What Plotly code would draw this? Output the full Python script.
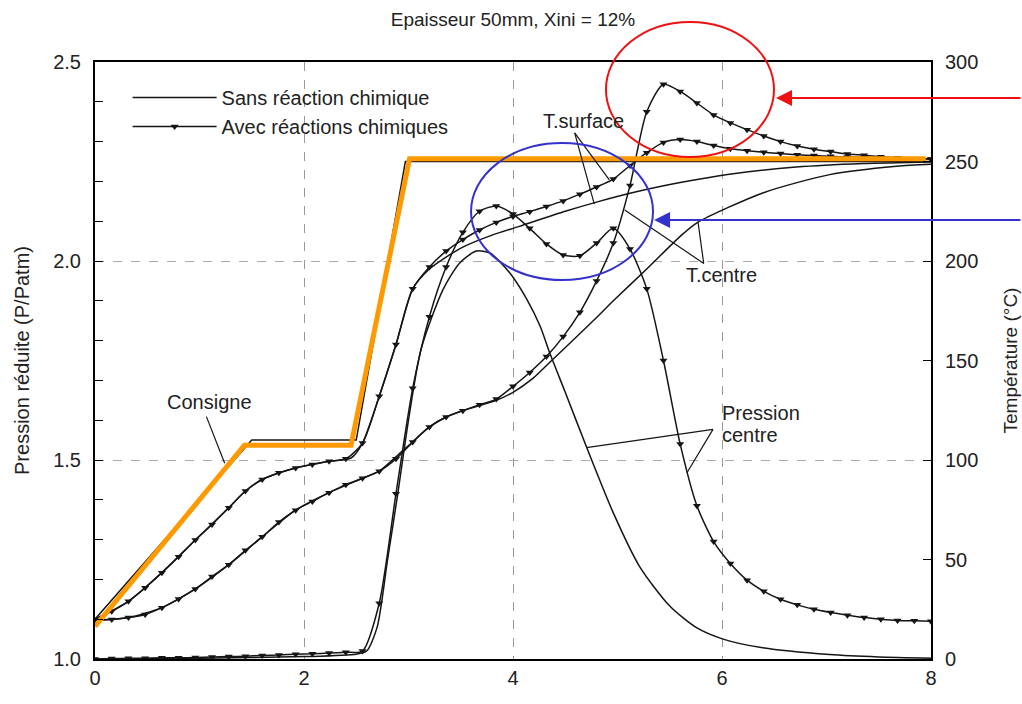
import plotly.graph_objects as go

# ---------------- data ----------------
# time axis (h) for the curves "avec réactions chimiques" (one marker per point)
x_avec = [0.00, 0.16, 0.32, 0.48, 0.64, 0.80, 0.96, 1.12, 1.28, 1.44, 1.60, 1.76, 1.92,
          2.08, 2.24, 2.40, 2.56, 2.72, 2.88, 3.04, 3.20, 3.36, 3.52, 3.68, 3.84, 4.00,
          4.16, 4.32, 4.48, 4.64, 4.80, 4.96, 5.12, 5.28, 5.44, 5.60, 5.76, 5.92, 6.08,
          6.24, 6.40, 6.56, 6.72, 6.88, 7.04, 7.20, 7.36, 7.52, 7.68, 7.84, 8.00]
# temperature surface, avec reactions (°C)
tsurf_avec = [20.0, 24.0, 29.0, 35.8, 43.4, 51.4, 59.8, 67.6, 76.0, 84.4, 90.2, 93.6, 96.0,
              97.8, 99.4, 100.6, 108.5, 132.0, 158.0, 186.0, 197.0, 205.0, 210.8, 215.6, 219.4,
              222.4, 224.8, 227.4, 230.2, 233.6, 237.2, 241.2, 248.0, 254.4, 259.6, 261.0,
              260.0, 258.0, 256.4, 255.4, 254.6, 254.0, 253.4, 253.0, 252.6, 252.2, 252.0,
              251.8, 251.6, 251.4, 251.2]
# temperature centre, avec reactions (°C)
tcent_avec = [19.4, 19.8, 20.8, 22.4, 25.8, 30.2, 35.2, 41.4, 47.4, 54.6, 61.4, 68.8, 74.8,
              79.2, 83.6, 87.6, 90.8, 94.4, 100.6, 109.0, 116.6, 121.6, 124.8, 127.8, 130.6,
              137.0, 144.0, 152.0, 162.0, 174.2, 190.0, 209.0, 238.0, 275.0, 288.8, 285.2,
              279.4, 273.4, 269.4, 266.0, 262.8, 260.0, 257.8, 256.2, 255.0, 253.8, 253.2,
              252.4, 251.8, 251.4, 251.2]
# pression centre, avec reactions (P/Patm)
p_avec = [1.000, 1.001, 1.002, 1.002, 1.003, 1.003, 1.004, 1.005, 1.006, 1.007, 1.009, 1.010,
          1.012, 1.013, 1.015, 1.017, 1.020, 1.140, 1.415, 1.680, 1.860, 1.985, 2.072, 2.125,
          2.138, 2.118, 2.082, 2.043, 2.015, 2.013, 2.045, 2.082, 2.030, 1.930, 1.750, 1.540,
          1.385, 1.295, 1.240, 1.198, 1.170, 1.150, 1.136, 1.125, 1.117, 1.110, 1.104, 1.100,
          1.097, 1.096, 1.095]

# curves "sans réaction chimique"
x_tsurf_sans = [0, 0.32, 0.64, 0.96, 1.28, 1.44, 1.6, 1.92, 2.24, 2.45, 2.56, 2.72, 2.88, 3.04,
                3.2, 3.36, 3.52, 3.8, 4.06, 4.5, 4.8, 5.2, 5.6, 6.07, 6.71, 7.35, 8]
tsurf_sans = [20, 29, 43.4, 59.8, 76, 84.4, 90.2, 96, 99.4, 101, 108.5, 132, 158, 186,
              196, 202, 207, 213, 217.4, 225, 229.6, 235, 239.4, 243.6, 247.2, 249, 249.8]

x_tcent_sans = [0, 0.32, 0.64, 0.96, 1.28, 1.6, 1.92, 2.24, 2.56, 2.72, 2.88, 3.04, 3.2, 3.36,
                3.52, 3.84, 4.0, 4.19, 4.35, 4.78, 4.96, 5.28, 5.6, 5.76, 6.39, 7.03, 7.67, 8]
tcent_sans = [19.4, 20.8, 25.8, 35.2, 47.4, 61.4, 74.8, 83.6, 90.8, 94.4, 101.6, 109.2, 116.6,
              121.6, 124.8, 130.0, 134.0, 141.0, 149.0, 170.6, 180.0, 196.0, 212.4, 219.2,
              234.2, 243.4, 247.6, 248.6]

x_p_sans = [0, 1.0, 2.0, 2.5, 2.6, 2.7, 2.8, 2.9, 3.0, 3.12, 3.33, 3.49, 3.65, 3.78, 3.97,
            4.13, 4.26, 4.35, 4.5, 4.7, 4.96, 5.21, 5.5, 5.76, 6.01, 6.39, 7.03, 7.5, 8]
p_sans = [1.0, 1.002, 1.006, 1.012, 1.02, 1.08, 1.25, 1.42, 1.6, 1.778, 1.928, 1.995, 2.025,
          2.02, 1.97, 1.905, 1.836, 1.77, 1.67, 1.535, 1.367, 1.233, 1.133, 1.078, 1.05,
          1.028, 1.011, 1.005, 1.002]

# consigne (set point), °C
x_cons = [0, 1.5, 2.5, 2.97, 8]
t_cons = [20, 110, 110, 250, 250]
x_cons_overlay = [0, 1.43, 2.45, 3.01, 7.95]
t_cons_overlay = [16.4, 107.4, 107.4, 251.4, 251.4]

# tick labels
x_ticks = [0, 2, 4, 6, 8]
y_ticks = [1.0, 1.5, 2.0, 2.5]
y_ticktext = ["1.0", "1.5", "2.0", "2.5"]
y2_ticks = [0, 50, 100, 150, 200, 250, 300]

# ---------------- figure ----------------
FONT = "Liberation Sans, Arial, sans-serif"
TXT = "#222222"
BLK = "#151515"
LW = 1.5

fig = go.Figure()

def sans(x, y, yaxis, name="Sans réaction chimique", show=False):
    fig.add_trace(go.Scatter(x=x, y=y, yaxis=yaxis, mode="lines", name=name,
                             legendgroup="sans", showlegend=show, legendrank=1,
                             line=dict(color=BLK, width=LW, shape="spline", smoothing=0.7)))

def avec(x, y, yaxis, name="Avec réactions chimiques", show=False):
    fig.add_trace(go.Scatter(x=x, y=y, yaxis=yaxis, mode="lines+markers", name=name,
                             legendgroup="avec", showlegend=show, legendrank=2,
                             line=dict(color=BLK, width=LW, shape="spline", smoothing=0.7),
                             marker=dict(symbol="triangle-down", size=7, color=BLK,
                                         line=dict(width=0))))

fig.add_trace(go.Scatter(x=x_cons, y=t_cons, yaxis="y2", mode="lines", showlegend=False,
                         line=dict(color=BLK, width=LW)))
sans(x_p_sans, p_sans, "y", show=True)
sans(x_tsurf_sans, tsurf_sans, "y2")
sans(x_tcent_sans, tcent_sans, "y2")
avec(x_avec, p_avec, "y", show=True)
avec(x_avec, tsurf_avec, "y2")
avec(x_avec, tcent_avec, "y2")
fig.add_trace(go.Scatter(x=x_cons_overlay, y=t_cons_overlay, yaxis="y2", mode="lines",
                         showlegend=False, line=dict(color="#FF9900", width=5)))

# leader lines for the curve labels (data coordinates, pressure axis)
leaders = [
    ((4.590, 2.322), (4.778, 2.143)), ((4.590, 2.322), (4.922, 2.204)),   # T.surface
    ((5.825, 1.994), (5.069, 2.128)), ((5.825, 1.994), (5.770, 2.099)),   # T.centre
    ((1.066, 1.609), (1.241, 1.492)),                                     # Consigne
    ((5.914, 1.577), (4.703, 1.531)), ((5.914, 1.577), (5.665, 1.468)),   # Pression centre
]
shapes = []
for (a, b) in leaders:
    shapes.append(dict(type="line", xref="x", yref="y", x0=a[0], y0=a[1], x1=b[0], y1=b[1],
                       line=dict(color=BLK, width=1.2)))

# highlight ellipses (paper coordinates)
shapes.append(dict(type="circle", xref="paper", yref="paper", x0=0.6112, x1=0.8122,
                   y0=0.8409, y1=1.0670, line=dict(color="#EE1111", width=2)))
shapes.append(dict(type="circle", xref="paper", yref="paper", x0=0.4498, x1=0.6675,
                   y0=0.6348, y1=0.8643, line=dict(color="#3333CC", width=2)))

ann_font = dict(family=FONT, size=20, color=TXT)
annotations = [
    dict(x=4.677, y=2.352, xref="x", yref="y", text="T.surface", showarrow=False, font=ann_font),
    dict(x=5.997, y=1.965, xref="x", yref="y", text="T.centre", showarrow=False, font=ann_font),
    dict(x=1.098, y=1.646, xref="x", yref="y", text="Consigne", showarrow=False, font=ann_font),
    dict(x=5.978, y=1.618, xref="x", yref="y", text="Pression", showarrow=False,
         xanchor="left", font=ann_font),
    dict(x=5.978, y=1.563, xref="x", yref="y", text="centre", showarrow=False,
         xanchor="left", font=ann_font),
    dict(x=0.8146, y=0.9397, xref="paper", yref="paper", text="", showarrow=True,
         ax=246, ay=0, arrowcolor="#EE1111", arrowwidth=2, arrowhead=2, arrowsize=1.6),
    dict(x=0.6687, y=0.7353, xref="paper", yref="paper", text="", showarrow=True,
         ax=368, ay=0, arrowcolor="#3333CC", arrowwidth=2, arrowhead=2, arrowsize=1.6),
]

axis_common = dict(showline=True, linecolor="black", linewidth=2, zeroline=False,
                   automargin=False, tickfont=dict(family=FONT, size=20, color=TXT))

fig.update_layout(
    width=1022, height=704,
    margin=dict(l=95, r=91, t=62, b=45),
    paper_bgcolor="white", plot_bgcolor="white",
    font=dict(family=FONT, size=20, color=TXT),
    title=dict(text="Epaisseur 50mm, Xini = 12%", x=0.5, xref="paper", y=0.973,
               yref="container", yanchor="middle", xanchor="center",
               font=dict(family=FONT, size=19, color=TXT)),
    xaxis=dict(range=[0, 8], tickmode="array", tickvals=x_ticks, ticks="", mirror=True,
               showgrid=True, gridcolor="#999999", griddash="dash", gridwidth=1,
               **axis_common),
    yaxis=dict(range=[1, 2.5], tickmode="array", tickvals=y_ticks, ticktext=y_ticktext,
               ticks="inside", ticklen=8, tickcolor="black", tickwidth=1,
               minor=dict(tickmode="linear", tick0=1.0, dtick=0.1, ticks="inside",
                          ticklen=8, tickcolor="black", showgrid=False),
               showgrid=True, gridcolor="#aaaaaa", griddash="dash", gridwidth=1,
               ticklabelstandoff=8,
               title=dict(text="Pression réduite (P/Patm)", standoff=18,
                          font=dict(family=FONT, size=20, color=TXT)),
               **axis_common),
    yaxis2=dict(range=[0, 300], overlaying="y", side="right", tickmode="array",
                tickvals=y2_ticks, ticks="inside", ticklen=8, tickcolor="black",
                showgrid=False, ticklabelstandoff=8,
                title=dict(text="Température (°C)", standoff=26,
                           font=dict(family=FONT, size=19, color=TXT)),
                **axis_common),
    legend=dict(x=0.039, y=0.973, xanchor="left", yanchor="top",
                bgcolor="rgba(0,0,0,0)", font=dict(family=FONT, size=20, color=TXT),
                itemwidth=84, tracegroupgap=0),
    shapes=shapes,
    annotations=annotations,
)

fig.write_html("out.html")
